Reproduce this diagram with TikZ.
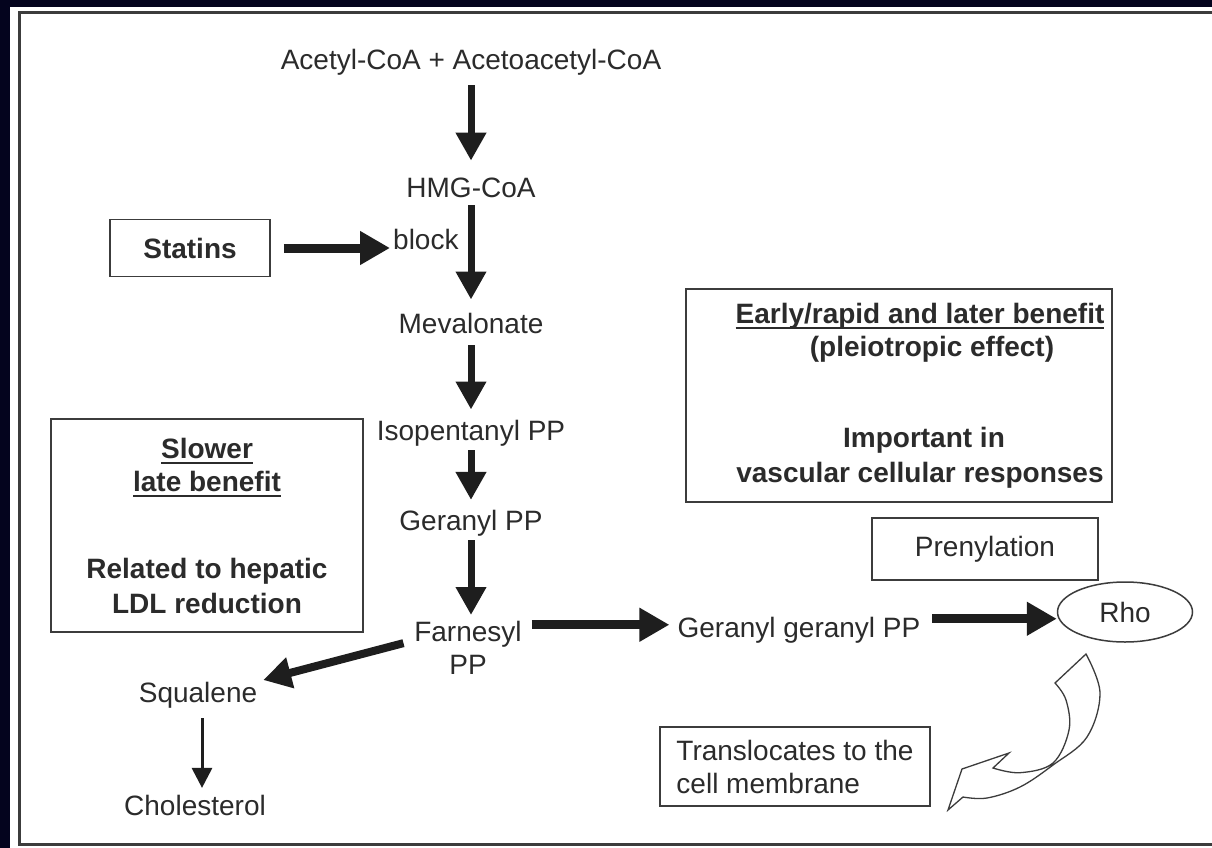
\documentclass[tikz,border=0pt]{standalone}
\usepackage{fontspec}
\setmainfont{Liberation Sans}
\usetikzlibrary{arrows.meta,shapes.geometric,calc}
\definecolor{navy}{HTML}{04041E}
\definecolor{ink}{HTML}{2B2B2B}
\definecolor{arr}{HTML}{1E1E1E}
\definecolor{linec}{HTML}{3C3C3C}
\newcommand\myul[1]{\setbox0\hbox{#1}\rlap{\rule[-6pt]{\wd0}{2.2pt}}\box0}
\begin{document}
\begin{tikzpicture}[x=1pt,y=-1pt,
  every node/.style={font=\fontsize{28}{33}\selectfont, text=ink, inner sep=0pt},
  lbl/.style={anchor=base},
  bf/.style={font=\fontsize{28}{33}\selectfont\bfseries},
  boxr/.style={draw=linec, line width=1.5pt, rectangle},
  varrow/.style={draw=arr, line width=7pt, -{Triangle[length=28pt,width=29pt]}},
  harrow/.style={draw=arr, line width=9pt, -{Triangle[length=30pt,width=32pt]}},
  darrow/.style={draw=arr, line width=8pt, -{Triangle[length=28pt,width=30pt]}},
  tarrow/.style={draw=arr, line width=3pt, -{Triangle[length=20pt,width=20pt]}},
  outline/.style={draw=linec, line width=1.3pt, line join=miter}]
\useasboundingbox (0,0) rectangle (1212,848);
% background and frame
\fill[white] (0,0) rectangle (1212,848);
\fill[navy] (0,0) rectangle (10,848);
\fill[navy] (0,0) rectangle (1212,7);
\draw[linec, line width=3pt] (1214,13) -- (19,13) -- (19,844) -- (1214,844);

% main pathway
\node[lbl] (acetyl) at (471,70) {Acetyl-CoA + Acetoacetyl-CoA};
\node[lbl] (hmg) at (471,197) {HMG-CoA};
\node[anchor=base west] (block) at (393,249) {block};
\node[boxr, bf, minimum width=160pt, minimum height=57pt] (statins) at (190,248) {Statins};
\node[lbl] (mev) at (471,333) {Mevalonate};
\node[lbl] (iso) at (471,440) {Isopentanyl PP};
\node[lbl] (ger) at (471,530) {Geranyl PP};
\node[anchor=north, align=center] (far) at (468,621.5) {Farnesyl\\PP};
\node[lbl] (ggpp) at (799,637) {Geranyl geranyl PP};
\node[draw=linec, line width=1.5pt, ellipse, minimum width=135pt, minimum height=60pt] (rho) at (1125,612) {Rho};
\node[lbl] (squal) at (198,702) {Squalene};
\node[lbl] (chol) at (195,815) {Cholesterol};

% boxes
\node[boxr, bf, align=center, minimum width=312pt, minimum height=213pt] (slow) at (207,525.5)
  {\myul{Slower}\\ \myul{late benefit}\\[54pt] Related to hepatic\\[2pt] LDL reduction};
\node[boxr, minimum width=426pt, minimum height=213pt] (early) at (899,395.5) {};
\node[bf, align=center, anchor=north] (earlytxt) at (920,302.6)
  {\myul{Early/rapid and later benefit}\\ \hspace*{24pt}(pleiotropic effect)\\[58pt] \hspace*{8pt}Important in\\[2pt] vascular cellular responses};
\node[boxr, minimum width=226pt, minimum height=62pt] (pren) at (985,549) {Prenylation};
\node[boxr, align=left, minimum width=270pt, minimum height=79pt] (trans) at (795,766.5)
  {Translocates to the\\ cell membrane};

% connectors
\draw[varrow, shorten <=9pt, shorten >=16.6pt] (acetyl) -- (hmg);
\draw[varrow, shorten <=8pt, shorten >=13pt] (hmg) -- (mev);
\draw[varrow, shorten <=12pt, shorten >=10pt] (mev) -- (iso);
\draw[varrow, shorten <=4pt, shorten >=9.6pt] (iso) -- (ger);
\draw[varrow, shorten <=4pt, shorten >=6.5pt] (ger.south) -- (ger.south |- far.north);
\draw[harrow, shorten <=13pt, shorten >=3pt] (statins.east) -- (statins.east -| block.west);
\draw[harrow, shorten <=10pt, shorten >=8pt] ([yshift=5pt]ggpp.west -| far.east) -- ([yshift=5pt]ggpp.west);
\draw[harrow, shorten <=11.6pt] ([yshift=11pt]ggpp.east) -- ([yshift=11pt]ggpp.east -| rho.west);
\draw[darrow, shorten <=11pt, shorten >=6pt] ([yshift=8pt]far.west) -- (squal.north east);
\draw[tarrow, shorten <=10pt, shorten >=6.6pt] ([xshift=4pt]squal.south) -- ([xshift=4pt]squal.south |- chol.north);

% curved outline arrow from Rho towards the membrane box
\draw[outline] (948,810) -- (962,769) -- (1009,753) -- (993,768)
  -- plot[smooth, tension=0.6] coordinates {(993,768) (1020,772.7) (1053,763) (1069,730) (1066,700) (1055,683)}
  -- (1086,654)
  -- plot[smooth, tension=0.6] coordinates {(1086,654) (1100,693) (1087,737) (1053,765) (1020,787) (987,798) (963,797)}
  -- cycle;
\end{tikzpicture}
\end{document}
